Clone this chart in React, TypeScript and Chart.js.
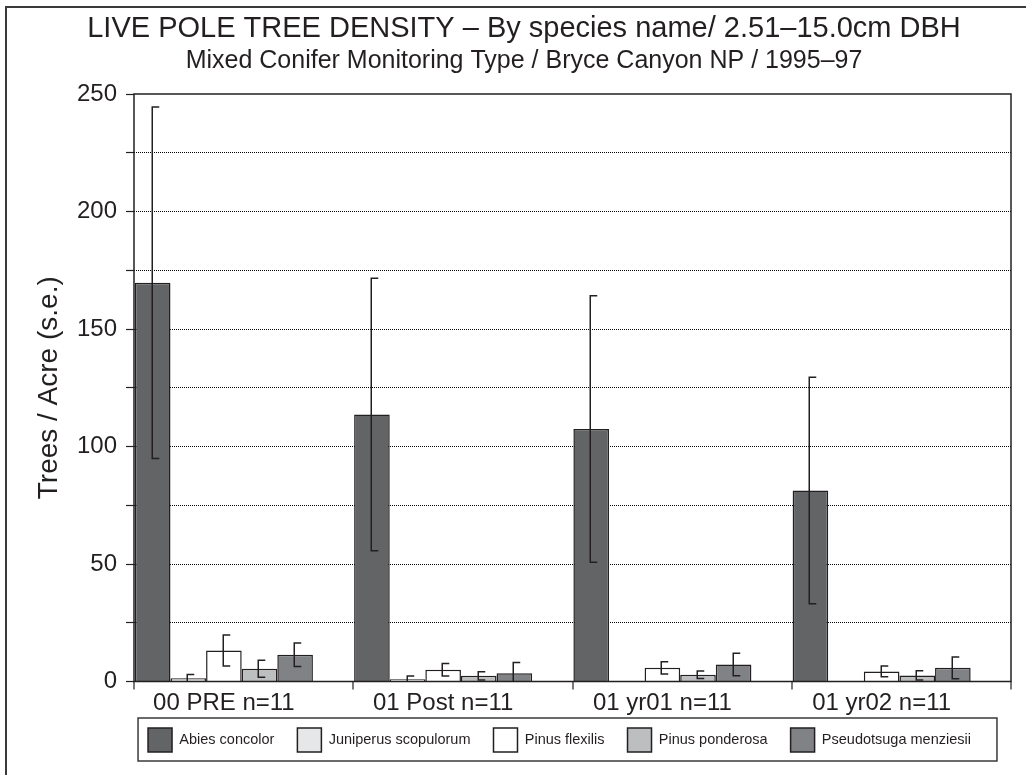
import React, { useEffect, useRef } from 'react';
import { Chart, registerables } from 'chart.js';

Chart.register(...registerables);

// ---- data ----
const CATEGORIES = ['00 PRE n=11', '01 Post n=11', '01 yr01 n=11', '01 yr02 n=11'];
const SPECIES = ['Abies concolor', 'Juniperus scopulorum', 'Pinus flexilis', 'Pinus ponderosa', 'Pseudotsuga menziesii'];

const ABIES = [169.7, 113.6, 107.4, 81.3];
const ABIES_SE = [74.8, 58.0, 56.7, 48.2];
const JUNIPERUS = [1.4, 1.0, 0, 0];
const JUNIPERUS_SE = [1.6, 1.3, 0, 0];
const FLEXILIS = [13.2, 5.0, 5.8, 4.3];
const FLEXILIS_SE = [6.6, 2.7, 2.6, 2.3];
const PONDEROSA = [5.4, 2.4, 2.9, 2.6];
const PONDEROSA_SE = [3.6, 1.8, 1.6, 2.0];
const PSEUDOTSUGA = [11.4, 3.5, 7.2, 5.8];
const PSEUDOTSUGA_SE = [5.0, 4.6, 4.8, 4.6];

const VALUES = [ABIES, JUNIPERUS, FLEXILIS, PONDEROSA, PSEUDOTSUGA];
const ERRORS = [ABIES_SE, JUNIPERUS_SE, FLEXILIS_SE, PONDEROSA_SE, PSEUDOTSUGA_SE];
const COLORS = ['#636466', '#e6e7e8', '#ffffff', '#bcbec0', '#808285'];

const Y_MIN = 0;
const Y_MAX = 250;
const Y_STEP = 25;
const Y_LABEL_STEP = 50;

const TITLE = 'LIVE POLE TREE DENSITY \u2013 By species name/ 2.51\u201315.0cm DBH';
const SUBTITLE = 'Mixed Conifer Monitoring Type / Bryce Canyon NP / 1995\u201397';
const Y_TITLE = 'Trees / Acre (s.e.)';

// layout of the bar groups inside each category slot (group is left-shifted in its slot)
const GROUP_SHIFT = 0.41;
const LEGEND_SHIFT_X = 13;
const LEGEND_SHIFT_Y = 11.5;
const INK = '#231f20';
const FONT = '"Liberation Sans", Arial, Helvetica, sans-serif';

const decorPlugin = {
  id: 'decor',
  afterLayout(chart: any) {
    const lg = chart.legend;
    if (lg) {
      lg.left -= LEGEND_SHIFT_X;
      lg.right -= LEGEND_SHIFT_X;
      lg.top -= LEGEND_SHIFT_Y;
      lg.bottom -= LEGEND_SHIFT_Y;
    }
  },
  beforeDraw(chart: any) {
    const { ctx } = chart;
    ctx.save();
    ctx.fillStyle = '#ffffff';
    ctx.fillRect(0, 0, chart.width, chart.height);
    ctx.strokeStyle = '#3a3a3a';
    ctx.lineWidth = 2;
    ctx.strokeRect(6, 7, chart.width + 40, chart.height + 40);
    ctx.restore();
  },
  afterDatasetsDraw(chart: any) {
    const { ctx, chartArea } = chart;
    const yScale = chart.scales.y;
    const xScale = chart.scales.x;
    ctx.save();
    // error bars
    ctx.beginPath();
    ctx.rect(chartArea.left, chartArea.top, chartArea.width, chartArea.height);
    ctx.clip();
    ctx.strokeStyle = INK;
    ctx.lineWidth = 1.5;
    chart.data.datasets.forEach((ds: any, di: number) => {
      const meta = chart.getDatasetMeta(di);
      const errs = ERRORS[di];
      meta.data.forEach((bar: any, i: number) => {
        const v = ds.data[i];
        const e = errs[i];
        if (!e) return;
        const x0 = Math.round(bar.x - 1) + 0.25;
        const yt = yScale.getPixelForValue(v + e);
        const yb = yScale.getPixelForValue(v - e);
        ctx.beginPath();
        ctx.moveTo(x0 + 7, yt);
        ctx.lineTo(x0, yt);
        ctx.lineTo(x0, yb);
        ctx.lineTo(x0 + 7, yb);
        ctx.stroke();
      });
    });
    ctx.restore();
    // plot frame + category boundary tick marks
    ctx.save();
    ctx.strokeStyle = INK;
    ctx.lineWidth = 1.5;
    ctx.strokeRect(chartArea.left, chartArea.top, chartArea.width, chartArea.height);
    ctx.lineWidth = 1.2;
    for (let k = 0; k <= CATEGORIES.length; k++) {
      const px = Math.round(xScale.getPixelForValue(k - GROUP_SHIFT));
      ctx.beginPath();
      ctx.moveTo(px, chartArea.bottom);
      ctx.lineTo(px, chartArea.bottom + 8);
      ctx.stroke();
    }
    ctx.restore();
  },
  afterDraw(chart: any) {
    const hb = chart.legend && chart.legend.legendHitBoxes;
    if (!hb || !hb.length) return;
    const { ctx } = chart;
    const first = hb[0];
    const last = hb[hb.length - 1];
    const l = first.left - 10;
    const r = last.left + last.width + 26;
    const t = first.top - 10;
    const b = first.top + first.height + 9;
    ctx.save();
    ctx.strokeStyle = '#3a3a3a';
    ctx.lineWidth = 1.5;
    ctx.strokeRect(l, t, r - l, b - t);
    ctx.restore();
  },
};

export default function App() {
  const ref = useRef<HTMLCanvasElement>(null);

  useEffect(() => {
    if (!ref.current) return;
    Chart.defaults.font.family = FONT;
    Chart.defaults.color = INK;

    const datasets = SPECIES.map((name, i) => ({
      label: name,
      data: VALUES[i],
      backgroundColor: COLORS[i],
      borderColor: INK,
      borderWidth: 1.5,
      xAxisID: 'x',
      yAxisID: 'y',
      categoryPercentage: 0.812,
      barPercentage: 1.0,
    }));

    const chart = new Chart(ref.current, {
      type: 'bar',
      data: {
        labels: CATEGORIES.map((_, i) => i),
        datasets,
      },
      plugins: [decorPlugin],
      options: {
        animation: false,
        responsive: true,
        maintainAspectRatio: false,
        layout: { padding: { left: 37, right: 15, top: 0, bottom: 1.5 } },
        plugins: {
          title: {
            display: true,
            text: TITLE,
            color: INK,
            font: { size: 29, weight: 'normal', family: FONT, lineHeight: 1.2 },
            padding: { top: 11.6, bottom: 0 },
          },
          subtitle: {
            display: true,
            text: SUBTITLE,
            color: INK,
            font: { size: 25, weight: 'normal', family: FONT, lineHeight: 1.2 },
            padding: { top: 0, bottom: 17.6 },
          },
          legend: {
            display: true,
            position: 'bottom',
            fullSize: false,
            align: 'center',
            labels: {
              boxWidth: 24,
              boxHeight: 24,
              padding: 23,
              color: INK,
              font: { size: 14.5, family: FONT },
            },
          },
          tooltip: { enabled: false },
        },
        scales: {
          x: {
            type: 'linear',
            position: 'bottom',
            min: -GROUP_SHIFT,
            max: CATEGORIES.length - GROUP_SHIFT,
            offset: false,
            afterBuildTicks: (scale: any) => {
              scale.ticks = CATEGORIES.map((_, i) => ({ value: i }));
            },
            ticks: {
              autoSkip: false,
              maxRotation: 0,
              minRotation: 0,
              padding: 1.5,
              color: INK,
              font: { size: 24, family: FONT, lineHeight: 1 },
              callback: (v: any) => (Number.isInteger(v) ? CATEGORIES[v] : ''),
            },
            grid: {
              display: true,
              offset: false,
              drawOnChartArea: false,
              drawTicks: true,
              tickLength: 8,
              tickColor: 'rgba(0,0,0,0)',
            },
            border: { display: false },
          },
          y: {
            type: 'linear',
            position: 'left',
            min: Y_MIN,
            max: Y_MAX,
            afterFit: (scale: any) => {
              scale.width = 97;
            },
            ticks: {
              stepSize: Y_STEP,
              padding: 9,
              color: INK,
              font: { size: 24, family: FONT },
              callback: (v: any) => (Number(v) % Y_LABEL_STEP === 0 ? String(v) : ''),
            },
            grid: {
              display: true,
              drawOnChartArea: true,
              drawTicks: true,
              tickLength: 8,
              lineWidth: 1,
              color: (ctx: any) =>
                ctx.tick && (ctx.tick.value === Y_MIN || ctx.tick.value === Y_MAX) ? 'rgba(0,0,0,0)' : '#000000',
              tickColor: INK,
              tickWidth: 1.2,
              tickBorderDash: [],
            },
            border: { display: false, dash: [1, 1] },
            title: {
              display: true,
              text: Y_TITLE,
              color: INK,
              font: { size: 28, family: FONT, lineHeight: 0.9 },
              padding: { top: 0, bottom: 0 },
            },
          },
        },
      } as any,
    });

    return () => chart.destroy();
  }, []);

  return (
    <div
      style={{
        position: 'fixed',
        left: 0,
        top: 0,
        width: 1026,
        height: 775,
        overflow: 'hidden',
        background: '#ffffff',
      }}
    >
      <canvas ref={ref} />
    </div>
  );
}
